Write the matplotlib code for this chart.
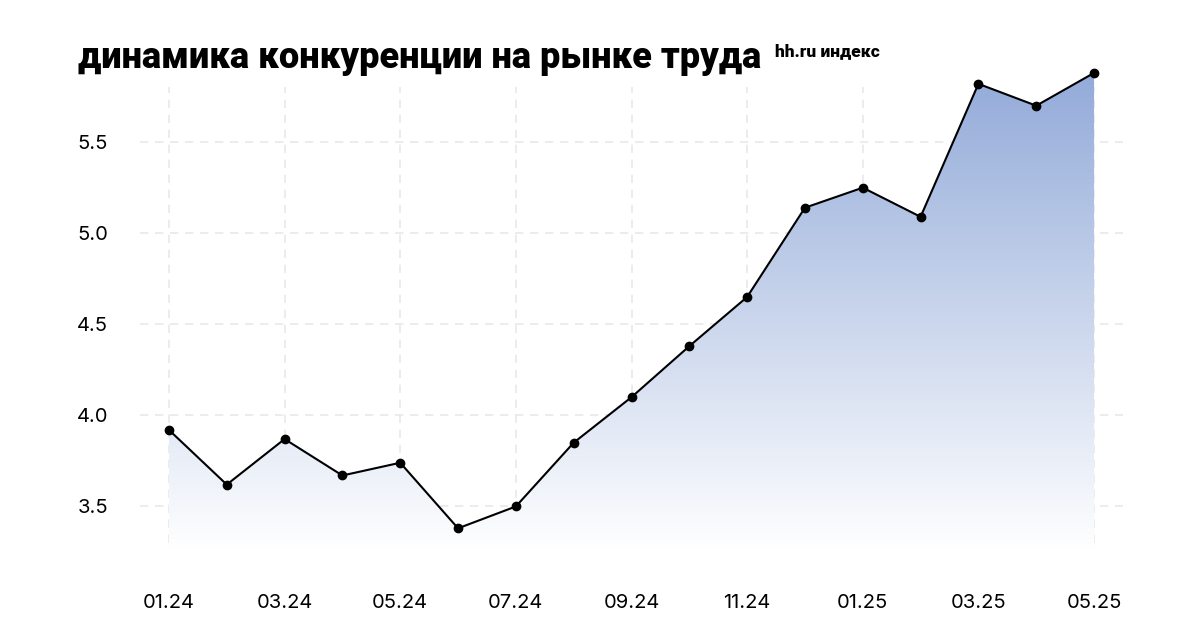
import numpy as np
import matplotlib
matplotlib.use("Agg")
import matplotlib.pyplot as plt
from matplotlib.colors import LinearSegmentedColormap

# ---------------------------------- data ----------------------------------
months = ["01.24", "02.24", "03.24", "04.24", "05.24", "06.24", "07.24", "08.24",
          "09.24", "10.24", "11.24", "12.24", "01.25", "02.25", "03.25", "04.25", "05.25"]
index_values = [3.92, 3.62, 3.87, 3.67, 3.74, 3.38, 3.50, 3.85,
                4.10, 4.38, 4.65, 5.14, 5.25, 5.09, 5.82, 5.70, 5.88]
y_ticks = [3.5, 4.0, 4.5, 5.0, 5.5]

title_text = "динамика конкуренции на рынке труда"
subtitle_text = "hh.ru индекс"

plt.rcParams["font.family"] = ["Inter", "DejaVu Sans"]

x = np.arange(len(months))
y = np.array(index_values)

fig = plt.figure(figsize=(12, 6.4), dpi=100)
ax = fig.add_axes([0.1167, 0.1375, 0.8191, 0.7685])
ax.set_xlim(-0.5, len(months) - 0.5)
ax.set_ylim(3.25, 5.95)

# gradient fill under the line
ymin, ymax = ax.get_ylim()
cmap = LinearSegmentedColormap.from_list("grad", ["#ffffff", "#93abd9"])
grad = np.linspace(0, 1, 256).reshape(-1, 1)
img = ax.imshow(grad, cmap=cmap, aspect="auto", origin="lower",
                extent=[x[0], x[-1], ymin, y.max()], zorder=1)
poly = ax.fill_between(x, y, ymin, color="none", lw=0)
clip = poly.get_paths()[0]
img.set_clip_path(clip, transform=ax.transData)

# grid
for yt in y_ticks:
    ax.axhline(yt, color="#e9e9e9", lw=1.2, ls=(0, (5, 4)), zorder=0.5)
for xt in x[::2]:
    ax.vlines(xt, 3.30, 5.80, color="#e9e9e9", lw=1.2, ls=(0, (5, 4)), zorder=0.5)

ax.plot(x, y, color="black", lw=1.5, marker="o", ms=6, zorder=3)

ax.set_xticks(x[::2])
ax.set_xticklabels(months[::2])
ax.set_yticks(y_ticks)
ax.set_yticklabels([f"{v:.1f}" for v in y_ticks])
ax.tick_params(axis="x", length=0, pad=30, labelsize=14.5)
ax.tick_params(axis="y", length=0, pad=23, labelsize=14.5)
for s in ax.spines.values():
    s.set_visible(False)

# title: shrink font until it fits the reference width (~682 px)
title = fig.text(0.065, 0.893, title_text, fontsize=30, fontweight="heavy",
                 family=["Roboto", "DejaVu Sans"], ha="left", va="baseline")
renderer = fig.canvas.get_renderer()
while title.get_window_extent(renderer).width > 684 and title.get_fontsize() > 10:
    title.set_fontsize(title.get_fontsize() - 0.5)

fig.text(0.646, 0.913, subtitle_text, fontsize=12.5, fontweight="heavy",
         family=["Roboto", "DejaVu Sans"], ha="left", va="baseline")

fig.savefig("out.png", dpi=100, facecolor="white")
